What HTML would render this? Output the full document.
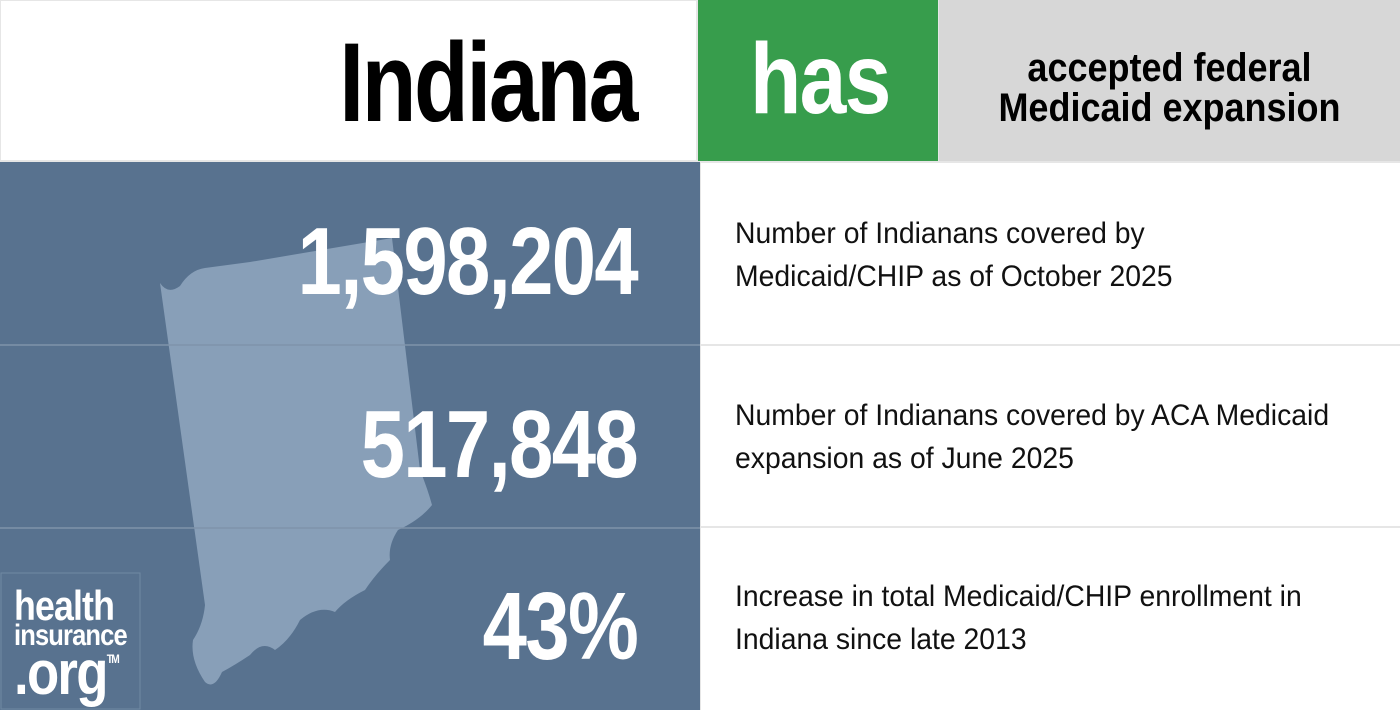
<!DOCTYPE html>
<html><head><meta charset="utf-8"><style>
*{margin:0;padding:0;box-sizing:border-box}
body{width:1400px;height:710px;background:#e6e6e6;position:relative;overflow:hidden;font-family:"Liberation Sans",sans-serif}
.abs{position:absolute}
.big{color:#fff;font-weight:bold;text-align:right;right:763px;letter-spacing:-2px;transform:scaleX(0.83);transform-origin:right center;white-space:nowrap}
.desc{left:735px;font-size:30px;color:#111;line-height:43px;width:700px;transform:scaleX(0.945);transform-origin:left center;white-space:nowrap}
.cell{left:701px;width:699px;background:#fff}
</style></head><body>
<div class="abs" style="left:1px;top:1px;width:695px;height:159px;background:#fff"></div>
<div class="abs" style="right:764px;top:18px;font-size:112px;font-weight:bold;letter-spacing:-3px;color:#000;transform:scaleX(0.8);transform-origin:right center">Indiana</div>
<div class="abs" style="left:698px;top:0;width:240px;height:161px;background:#379d4c"></div>
<div class="abs" style="left:750px;top:22px;font-size:100px;font-weight:bold;color:#fff;letter-spacing:-2px;transform:scaleX(0.84);transform-origin:left center">has</div>
<div class="abs" style="left:939px;top:0;width:461px;height:161px;background:#d7d7d7"></div>
<div class="abs" style="left:939px;width:461px;top:48px;text-align:center;font-size:40px;font-weight:bold;line-height:40px;color:#000;transform:scaleX(0.9);transform-origin:center">accepted federal<br>Medicaid expansion</div>
<div class="abs" style="left:0;top:162px;width:700px;height:548px;background:#58728f"></div>
<svg class="abs" style="left:0;top:0" width="700" height="710">
<path d="M160,283 Q168,295 180,286 Q190,270 205,268 L250,262 L392,238 L420,470 Q428,490 432,505 Q420,520 398,530 Q388,545 390,560 Q375,575 365,590 Q345,600 335,612 Q318,605 300,620 Q290,640 275,650 Q262,640 250,655 Q235,665 222,672 Q214,690 205,682 Q190,660 193,640 Q203,625 205,605 L160,283 Z" fill="#889fb8"/>
<line x1="0" y1="345" x2="700" y2="345" stroke="#7f93aa" stroke-width="1.5"/>
<line x1="0" y1="528" x2="700" y2="528" stroke="#7f93aa" stroke-width="1.5"/>
<rect x="1" y="573" width="139" height="136" fill="none" stroke="#7089a3" stroke-width="1"/>
</svg>
<div class="abs" style="left:14px;top:585px;color:#fff;font-weight:bold;line-height:1;transform:scaleX(0.85);transform-origin:left top">
<div style="font-size:42px;letter-spacing:-1px;height:36px">health</div>
<div style="font-size:30px;letter-spacing:-1px;height:30px">insurance</div>
<div style="font-size:62px;letter-spacing:-2px;margin-top:-8px;white-space:nowrap">.org<span style="font-size:12px;vertical-align:top;position:relative;top:10px">TM</span></div>
</div>
<div class="abs big" style="top:207px;font-size:96px">1,598,204</div>
<div class="abs big" style="top:390px;font-size:96px">517,848</div>
<div class="abs big" style="top:572px;font-size:96px">43%</div>
<div class="abs cell" style="top:163px;height:181px"></div>
<div class="abs cell" style="top:346px;height:180px"></div>
<div class="abs cell" style="top:528px;height:182px"></div>
<div class="abs desc" style="top:212px">Number of Indianans covered by<br>Medicaid/CHIP as of October 2025</div>
<div class="abs desc" style="top:394px">Number of Indianans covered by ACA Medicaid<br>expansion as of June 2025</div>
<div class="abs desc" style="top:575px">Increase in total Medicaid/CHIP enrollment in<br>Indiana since late 2013</div>
</body></html>
